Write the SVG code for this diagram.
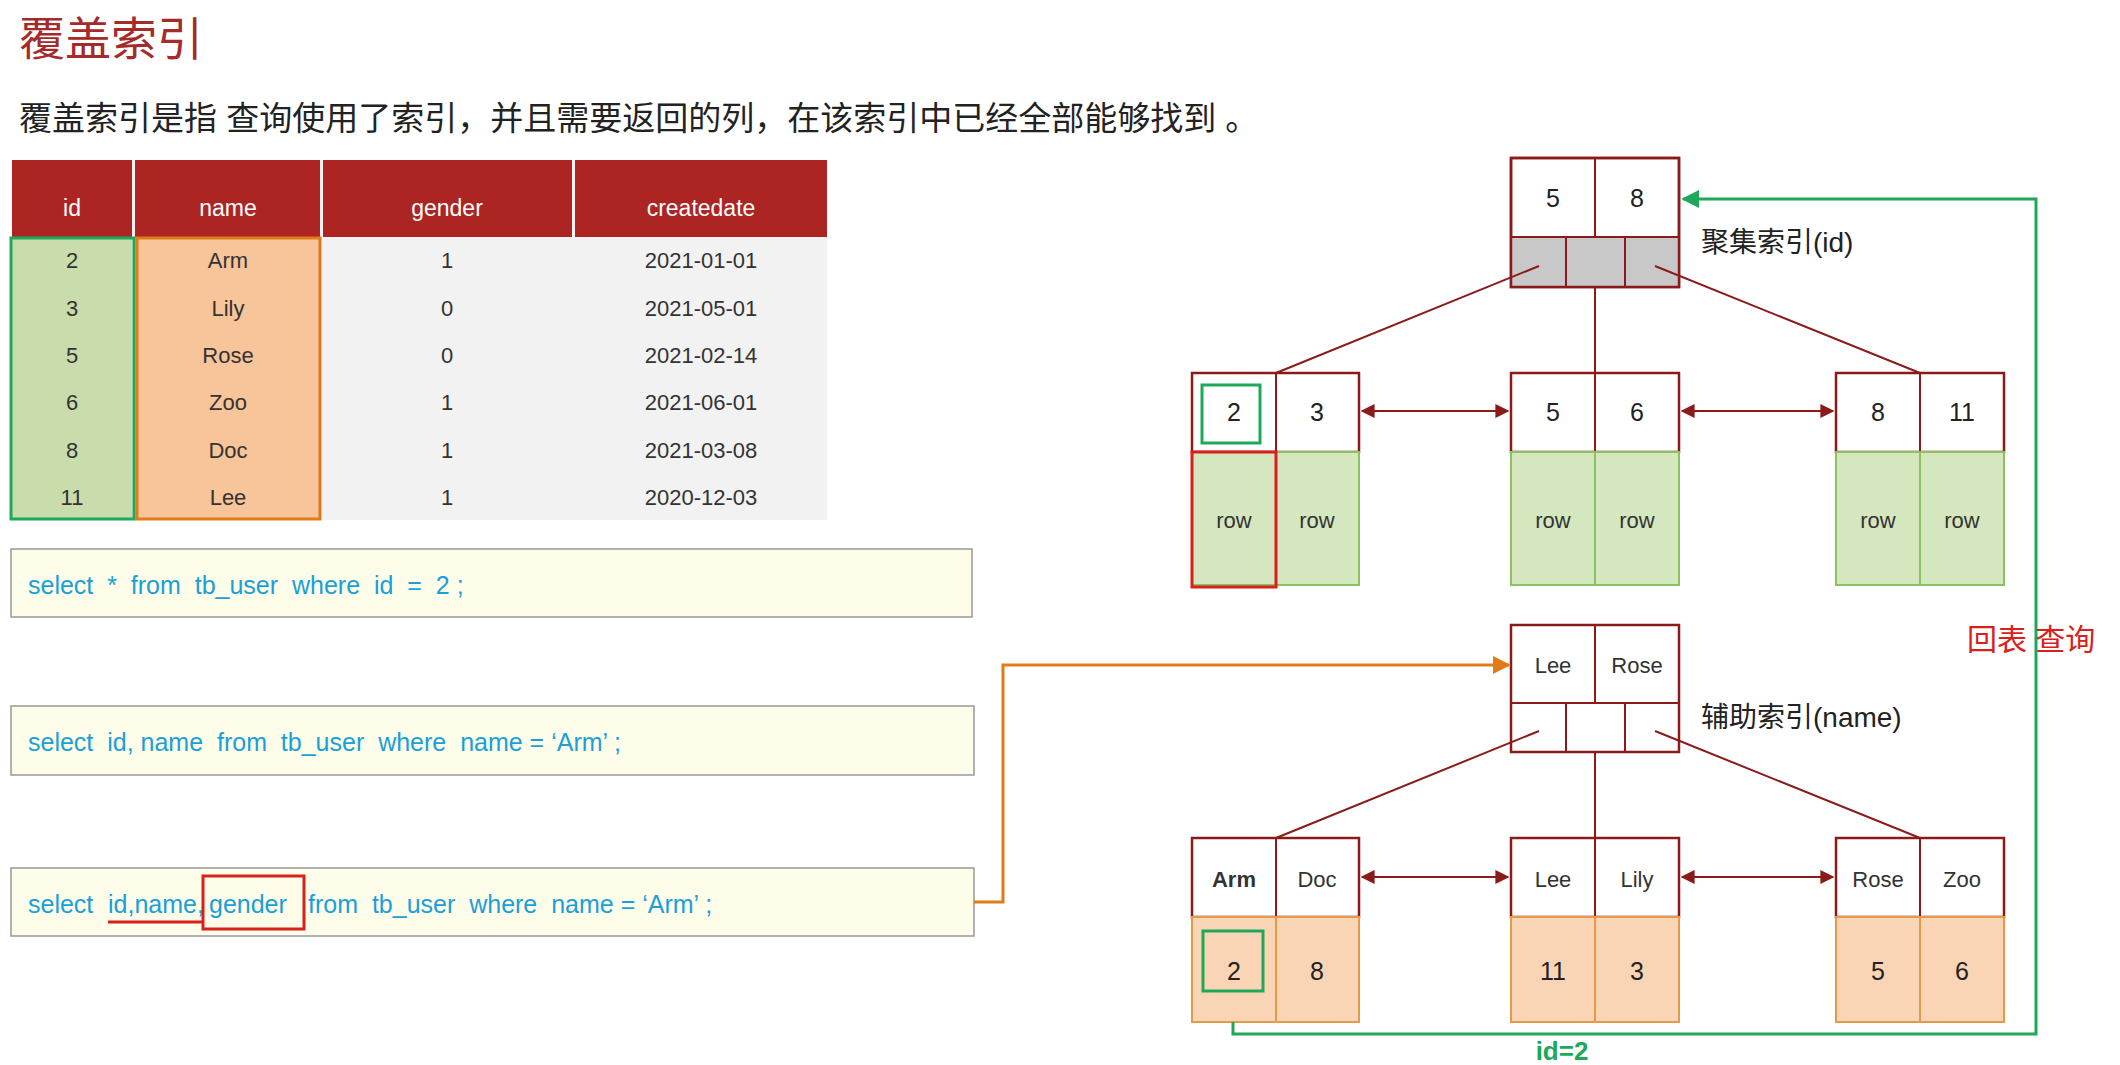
<svg xmlns="http://www.w3.org/2000/svg" width="2120" height="1065" viewBox="0 0 2120 1065">
<style>
.cjk{font-family:"Liberation Sans","Noto Sans CJK SC",sans-serif}
.t{font-family:"Liberation Sans",sans-serif;font-size:22px;fill:#333;text-anchor:middle}
.h{font-family:"Liberation Sans",sans-serif;font-size:23px;fill:#fff;text-anchor:middle}
.q{font-family:"Liberation Sans",sans-serif;font-size:25px;fill:#1aa0d8}
.k{font-family:"Liberation Sans",sans-serif;font-size:25px;fill:#222;text-anchor:middle}
.n{fill:#fff;stroke:#8b1a1a;stroke-width:2.5}
.ln{stroke:#8b1a1a;stroke-width:2;fill:none}
.sq{fill:#fdfde9;stroke:#999;stroke-width:1.5}
</style>
<defs>
<marker id="ar" viewBox="0 0 10 10" refX="9" refY="5" markerWidth="7" markerHeight="7" orient="auto-start-reverse"><path d="M0,0L10,5L0,10z" fill="#8b1a1a"/></marker>
<marker id="ao" viewBox="0 0 10 10" refX="9" refY="5" markerWidth="6" markerHeight="6" orient="auto"><path d="M0,0L10,5L0,10z" fill="#e07b1a"/></marker>
<marker id="ag" viewBox="0 0 10 10" refX="9" refY="5" markerWidth="6" markerHeight="6" orient="auto"><path d="M0,0L10,5L0,10z" fill="#1fa85a"/></marker>
</defs>
<rect width="2120" height="1065" fill="#fff"/>
<text x="19" y="55" class="cjk" font-size="46" fill="#a52a2a">覆盖索引</text>
<text x="19" y="130" class="cjk" font-size="33" fill="#222">覆盖索引是指 查询使用了索引，并且需要返回的列，在该索引中已经全部能够找到 。</text>
<g id="table">
<rect x="12" y="160" width="815" height="360" fill="#f2f2f2"/>
<rect x="12" y="160" width="120" height="77" fill="#ac2523"/><rect x="135" y="160" width="185" height="77" fill="#ac2523"/><rect x="323" y="160" width="249" height="77" fill="#ac2523"/><rect x="575" y="160" width="252" height="77" fill="#ac2523"/>
<text x="72" y="216" class="h">id</text><text x="228" y="216" class="h">name</text><text x="447" y="216" class="h">gender</text><text x="701" y="216" class="h">createdate</text>
<rect x="12" y="237" width="120" height="283" fill="#c9dcab"/><rect x="135" y="237" width="185" height="283" fill="#f8c499"/>
<g class="t">
<text x="72" y="268">2</text><text x="72" y="316">3</text><text x="72" y="363">5</text><text x="72" y="410">6</text><text x="72" y="458">8</text><text x="72" y="505">11</text>
<text x="228" y="268">Arm</text><text x="228" y="316">Lily</text><text x="228" y="363">Rose</text><text x="228" y="410">Zoo</text><text x="228" y="458">Doc</text><text x="228" y="505">Lee</text>
<text x="447" y="268">1</text><text x="447" y="316">0</text><text x="447" y="363">0</text><text x="447" y="410">1</text><text x="447" y="458">1</text><text x="447" y="505">1</text>
<text x="701" y="268">2021-01-01</text><text x="701" y="316">2021-05-01</text><text x="701" y="363">2021-02-14</text><text x="701" y="410">2021-06-01</text><text x="701" y="458">2021-03-08</text><text x="701" y="505">2020-12-03</text>
</g>
<rect x="11" y="238" width="123" height="281" fill="none" stroke="#1fa85a" stroke-width="3"/>
<rect x="137" y="238" width="183" height="281" fill="none" stroke="#e07b1a" stroke-width="3"/>
</g>
<g id="queries">
<rect x="11" y="549" width="961" height="68" class="sq"/><text x="28" y="594" class="q" xml:space="preserve">select  *  from  tb_user  where  id  =  2 ;</text>
<rect x="11" y="706" width="963" height="69" class="sq"/><text x="28" y="751" class="q" xml:space="preserve">select  id, name  from  tb_user  where  name = ‘Arm’ ;</text>
<rect x="11" y="868" width="963" height="68" class="sq"/>
<text y="913" class="q" xml:space="preserve"><tspan x="28">select</tspan><tspan x="108">id,name,</tspan><tspan x="209">gender</tspan><tspan x="308">from  tb_user  where  name = ‘Arm’ ;</tspan></text>
<line x1="108" y1="922" x2="203" y2="922" stroke="#d9201a" stroke-width="3"/>
<rect x="203" y="876" width="101" height="53" fill="none" stroke="#d9201a" stroke-width="3"/>
</g>
<g id="cluster-root">
<rect x="1511" y="158" width="168" height="129" class="n"/><rect x="1512" y="237" width="166" height="49" fill="#c8c8c8"/>
<line x1="1511" y1="237" x2="1679" y2="237" class="ln"/><line x1="1595" y1="158" x2="1595" y2="237" class="ln"/>
<line x1="1566" y1="237" x2="1566" y2="287" class="ln"/><line x1="1625" y1="237" x2="1625" y2="287" class="ln"/>
<rect x="1511" y="158" width="168" height="129" fill="none" stroke="#8b1a1a" stroke-width="2.5"/>
<text x="1553" y="207" class="k">5</text><text x="1637" y="207" class="k">8</text>
<text x="1701" y="252" class="cjk" font-size="28" fill="#222">聚集索引(id)</text>
</g>
<g id="cluster-leaves">
<rect x="1192" y="373" width="167" height="79" class="n"/><rect x="1511" y="373" width="168" height="79" class="n"/><rect x="1836" y="373" width="168" height="79" class="n"/>
<line x1="1276" y1="373" x2="1276" y2="452" class="ln"/><line x1="1595" y1="373" x2="1595" y2="452" class="ln"/><line x1="1920" y1="373" x2="1920" y2="452" class="ln"/>
<text x="1234" y="421" class="k">2</text><text x="1317" y="421" class="k">3</text><text x="1553" y="421" class="k">5</text><text x="1637" y="421" class="k">6</text><text x="1878" y="421" class="k">8</text><text x="1962" y="421" class="k">11</text>
<g fill="#d5e7bf" stroke="#8cc060" stroke-width="2">
<rect x="1192" y="452" width="84" height="133"/><rect x="1276" y="452" width="83" height="133"/>
<rect x="1511" y="452" width="84" height="133"/><rect x="1595" y="452" width="84" height="133"/>
<rect x="1836" y="452" width="84" height="133"/><rect x="1920" y="452" width="84" height="133"/>
</g>
<g class="t"><text x="1234" y="528">row</text><text x="1317" y="528">row</text><text x="1553" y="528">row</text><text x="1637" y="528">row</text><text x="1878" y="528">row</text><text x="1962" y="528">row</text></g>
<rect x="1202" y="385" width="58" height="58" fill="none" stroke="#1fa85a" stroke-width="3"/>
<rect x="1192" y="452" width="84" height="135" fill="none" stroke="#d9201a" stroke-width="3"/>
</g>
<g id="sec-root">
<rect x="1511" y="625" width="168" height="127" class="n"/>
<line x1="1511" y1="703" x2="1679" y2="703" class="ln"/><line x1="1595" y1="625" x2="1595" y2="703" class="ln"/>
<line x1="1566" y1="703" x2="1566" y2="752" class="ln"/><line x1="1625" y1="703" x2="1625" y2="752" class="ln"/>
<text x="1553" y="673" class="t">Lee</text><text x="1637" y="673" class="t">Rose</text>
<text x="1701" y="727" class="cjk" font-size="28" fill="#222">辅助索引(name)</text>
</g>
<g id="sec-leaves">
<rect x="1192" y="838" width="167" height="79" class="n"/><rect x="1511" y="838" width="168" height="79" class="n"/><rect x="1836" y="838" width="168" height="79" class="n"/>
<line x1="1276" y1="838" x2="1276" y2="917" class="ln"/><line x1="1595" y1="838" x2="1595" y2="917" class="ln"/><line x1="1920" y1="838" x2="1920" y2="917" class="ln"/>
<text x="1234" y="887" class="t" font-weight="bold">Arm</text><text x="1317" y="887" class="t">Doc</text><text x="1553" y="887" class="t">Lee</text><text x="1637" y="887" class="t">Lily</text><text x="1878" y="887" class="t">Rose</text><text x="1962" y="887" class="t">Zoo</text>
<g fill="#fad5b5" stroke="#e59a4a" stroke-width="2">
<rect x="1192" y="917" width="84" height="105"/><rect x="1276" y="917" width="83" height="105"/>
<rect x="1511" y="917" width="84" height="105"/><rect x="1595" y="917" width="84" height="105"/>
<rect x="1836" y="917" width="84" height="105"/><rect x="1920" y="917" width="84" height="105"/>
</g>
<g class="k"><text x="1234" y="980">2</text><text x="1317" y="980">8</text><text x="1553" y="980">11</text><text x="1637" y="980">3</text><text x="1878" y="980">5</text><text x="1962" y="980">6</text></g>
<rect x="1203" y="931" width="60" height="60" fill="none" stroke="#1fa85a" stroke-width="3"/>
</g>
<g id="connectors">
<line x1="1539" y1="266" x2="1276" y2="373" class="ln"/><line x1="1595" y1="287" x2="1595" y2="373" class="ln"/><line x1="1655" y1="266" x2="1920" y2="373" class="ln"/>
<line x1="1362" y1="411" x2="1508" y2="411" class="ln" marker-start="url(#ar)" marker-end="url(#ar)"/>
<line x1="1682" y1="411" x2="1833" y2="411" class="ln" marker-start="url(#ar)" marker-end="url(#ar)"/>
<line x1="1539" y1="731" x2="1276" y2="838" class="ln"/><line x1="1595" y1="752" x2="1595" y2="838" class="ln"/><line x1="1655" y1="731" x2="1920" y2="838" class="ln"/>
<line x1="1362" y1="877" x2="1508" y2="877" class="ln" marker-start="url(#ar)" marker-end="url(#ar)"/>
<line x1="1682" y1="877" x2="1833" y2="877" class="ln" marker-start="url(#ar)" marker-end="url(#ar)"/>
<polyline points="974,902 1003,902 1003,665 1509,665" fill="none" stroke="#e07b1a" stroke-width="3" marker-end="url(#ao)"/>
<polyline points="1233,1022 1233,1034 2036,1034 2036,199 1683,199" fill="none" stroke="#1fa85a" stroke-width="3" marker-end="url(#ag)"/>
<text x="1562" y="1060" class="cjk" font-size="26" font-weight="bold" fill="#1fa85a" text-anchor="middle">id=2</text>
<text x="1967" y="650" class="cjk" font-size="30" fill="#d9201a" xml:space="preserve">回表 查询</text>
</g>
</svg>
